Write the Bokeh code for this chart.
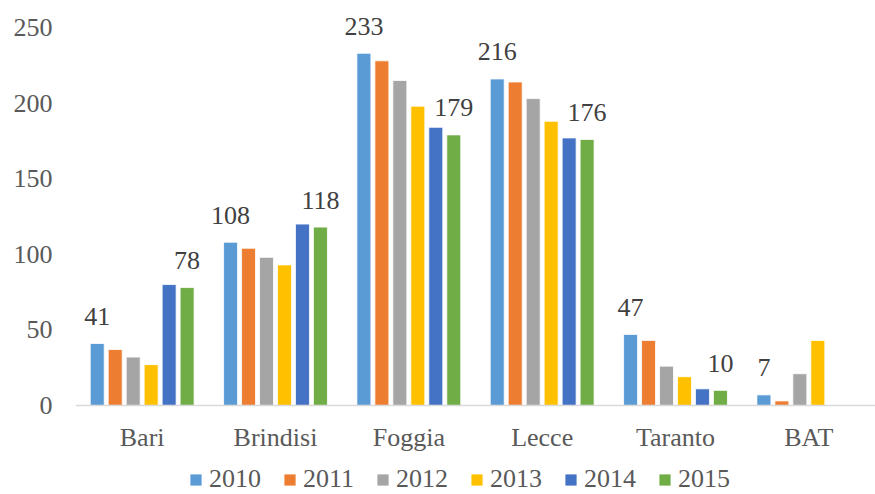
import math
from bokeh.plotting import figure
from bokeh.models import ColumnDataSource, FactorRange, FixedTicker, Legend, LegendItem, Range1d
from bokeh.transform import dodge
from bokeh.core.properties import value
from bokeh.embed import file_html
from bokeh.resources import INLINE

NaN = float("nan")
categories = ["Bari", "Brindisi", "Foggia", "Lecce", "Taranto", "BAT"]
years = ["2010", "2011", "2012", "2013", "2014", "2015"]
v2010 = [41, 108, 233, 216, 47, 7]
v2011 = [37, 104, 228, 214, 43, 3]
v2012 = [32, 98, 215, 203, 26, 21]
v2013 = [27, 93, 198, 188, 19, 43]
v2014 = [80, 120, 184, 177, 11, NaN]
v2015 = [78, 118, 179, 176, 10, NaN]
colors = ["#5B9BD5", "#ED7D31", "#A5A5A5", "#FFC000", "#4472C4", "#70AD47"]
y_ticks = [0, 50, 100, 150, 200, 250]
labelled_years = ["2010", "2015"]

series = dict(zip(years, [v2010, v2011, v2012, v2013, v2014, v2015]))
data = {"cat": categories}
data.update(series)
src = ColumnDataSource(data)

FONT = "Liberation Serif"
TXT = "#595959"
FS = "26px"

p = figure(width=875, height=494, x_range=FactorRange(factors=categories),
           y_range=Range1d(-58.9, 267.9), output_backend="svg", toolbar_location=None,
           min_border_left=75, min_border_right=0, min_border_top=0, min_border_bottom=0)
p.outline_line_color = None
p.grid.visible = False

pitch = 0.1348
bw = 0.105
items = []
for j, (yr, col) in enumerate(zip(years, colors)):
    off = (j - 2.5) * pitch
    r = p.vbar(x=dodge("cat", off, range=p.x_range), top=yr, width=bw, source=src,
               fill_color=col, line_color="white", line_width=0.8)
    items.append(LegendItem(label=yr, renderers=[r]))
    if yr in labelled_years:
        vals = series[yr]
        cats = [c for c, v in zip(categories, vals) if not math.isnan(v)]
        ys = [v for v in vals if not math.isnan(v)]
        lsrc = ColumnDataSource(dict(cat=cats, y=ys, t=[str(int(v)) for v in ys]))
        p.text(x=dodge("cat", off, range=p.x_range), y="y", text="t", source=lsrc,
               text_align="center", text_baseline="alphabetic", y_offset=-27,
               text_font=value(FONT), text_font_size=FS, text_color="#404040")

xa = p.xaxis[0]
xa.fixed_location = 0
xa.axis_line_color = "#d9d9d9"
xa.axis_line_width = 1.5
xa.major_tick_line_color = None
xa.minor_tick_line_color = None
xa.major_tick_out = 0
xa.major_tick_in = 0
xa.major_label_text_font = FONT
xa.major_label_text_font_size = FS
xa.major_label_text_color = TXT
xa.major_label_standoff = 18

ya = p.yaxis[0]
ya.ticker = FixedTicker(ticks=y_ticks)
ya.axis_line_color = None
ya.major_tick_line_color = None
ya.minor_tick_line_color = None
ya.major_tick_out = 0
ya.major_tick_in = 0
ya.major_label_text_font = FONT
ya.major_label_text_font_size = FS
ya.major_label_text_color = TXT
ya.major_label_standoff = 23

legend = Legend(items=items, orientation="horizontal", location=(113, 0),
                glyph_width=15, glyph_height=15, label_standoff=6, spacing=21,
                label_text_font=FONT, label_text_font_size=FS, label_text_color=TXT,
                border_line_color=None, background_fill_alpha=0, padding=0, margin=0)
p.add_layout(legend, "center")

open("out.html", "w").write(file_html(p, INLINE))
